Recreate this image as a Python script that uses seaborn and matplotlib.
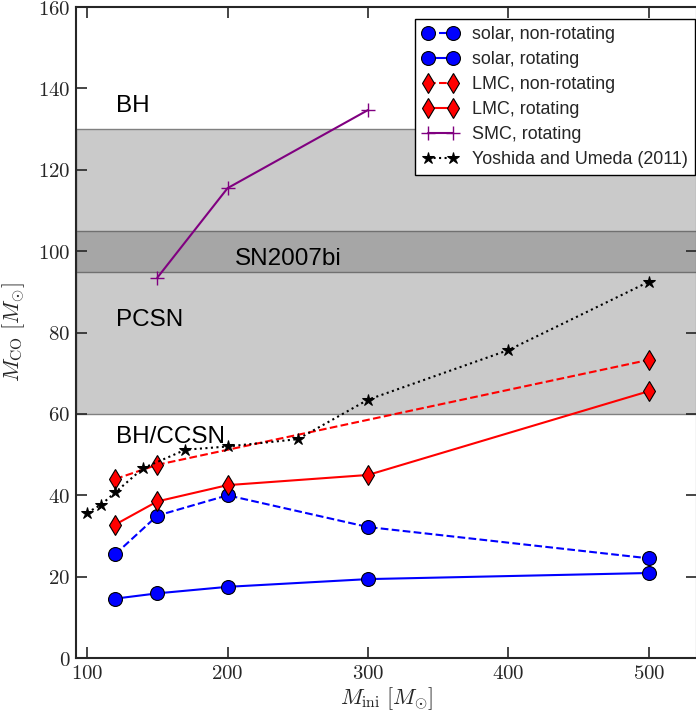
import numpy as np
import matplotlib
matplotlib.use("Agg")
import matplotlib.pyplot as plt
import seaborn as sns

sns.set_style("ticks")
plt.rcParams["mathtext.fontset"] = "cm"
plt.rcParams["font.family"] = ["Liberation Sans", "DejaVu Sans"]

# data
solar_nr_x = [120, 150, 200, 300, 500]
solar_nr_y = [25.5, 35.0, 40.0, 32.2, 24.5]
solar_r_x = [120, 150, 200, 300, 500]
solar_r_y = [14.6, 15.9, 17.5, 19.4, 20.9]
lmc_nr_x = [120, 150, 500]
lmc_nr_y = [44.0, 47.5, 73.3]
lmc_r_x = [120, 150, 200, 300, 500]
lmc_r_y = [32.8, 38.5, 42.5, 45.0, 65.6]
smc_r_x = [150, 200, 300]
smc_r_y = [93.5, 115.5, 134.7]
yu_x = [100, 110, 120, 140, 170, 200, 250, 300, 400, 500]
yu_y = [35.7, 37.7, 40.7, 46.7, 51.2, 52.0, 53.8, 63.5, 75.7, 92.5]

xticks = [100, 200, 300, 400, 500]
yticks = [0, 20, 40, 60, 80, 100, 120, 140, 160]

fig = plt.figure(figsize=(6.96, 7.11), dpi=100)
ax = fig.add_axes([0.109, 0.0745, 0.892, 0.9155])

# mass regions
ax.axhspan(60, 130, facecolor="#cacaca", edgecolor="#808080", lw=1, zorder=0)
ax.axhspan(95, 105, facecolor="#a6a6a6", edgecolor="#707070", lw=1, zorder=0)

sns.lineplot(x=solar_nr_x, y=solar_nr_y, ax=ax, color="blue", ls="--", lw=1.5,
             marker="o", ms=10, mfc="blue", mec="black", mew=0.8,
             label="solar, non-rotating")
sns.lineplot(x=solar_r_x, y=solar_r_y, ax=ax, color="blue", ls="-", lw=1.5,
             marker="o", ms=10, mfc="blue", mec="black", mew=0.8,
             label="solar, rotating")
sns.lineplot(x=lmc_nr_x, y=lmc_nr_y, ax=ax, color="red", ls="--", lw=1.5,
             marker="d", ms=10, mfc="red", mec="black", mew=0.8,
             label="LMC, non-rotating")
sns.lineplot(x=lmc_r_x, y=lmc_r_y, ax=ax, color="red", ls="-", lw=1.5,
             marker="d", ms=10, mfc="red", mec="black", mew=0.8,
             label="LMC, rotating")
sns.lineplot(x=smc_r_x, y=smc_r_y, ax=ax, color="purple", ls="-", lw=1.5,
             marker="+", ms=10, mec="purple", mew=1.0,
             label="SMC, rotating")
sns.lineplot(x=yu_x, y=yu_y, ax=ax, color="black", ls=":", lw=1.5,
             marker="*", ms=9, mfc="black", mec="black",
             label="Yoshida and Umeda (2011)")

txt = dict(fontsize=17.5, color="black")
ax.text(120.5, 134.2, "BH", **txt)
ax.text(120.5, 81.6, "PCSN", **txt)
ax.text(120.5, 52.8, "BH/CCSN", **txt)
ax.text(205.5, 96.6, "SN2007bi", **txt)

ax.set_xlim(92, 534)
ax.set_ylim(0, 160)
ax.set_xticks(xticks)
ax.set_yticks(yticks)
ax.set_xticklabels([f"${t}$" for t in xticks])
ax.set_yticklabels([f"${t}$" for t in yticks])
ax.tick_params(direction="in", length=8, width=1.2, top=True, right=True,
               labelsize=15, pad=4)
for s in ax.spines.values():
    s.set_linewidth(1.5)
ax.set_xlabel(r"$M_{\rm ini}\ [M_{\odot}]$", fontsize=16, labelpad=2)
ax.set_ylabel(r"$M_{\rm CO}\ [M_{\odot}]$", fontsize=16, labelpad=8)

leg = ax.legend(loc="upper right", bbox_to_anchor=(0.997, 0.982),
                numpoints=2, fontsize=12.9, frameon=True, fancybox=False,
                borderaxespad=0, handlelength=2.0, labelspacing=0.45,
                handletextpad=0.75)
leg.get_frame().set_edgecolor("black")
leg.get_frame().set_alpha(1)

fig.savefig("out.png", dpi=100)
